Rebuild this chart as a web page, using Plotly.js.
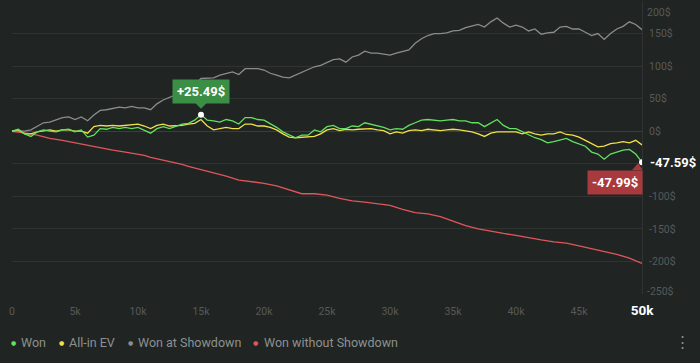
<!DOCTYPE html>
<html><head><meta charset="utf-8">
<script src="https://cdn.plot.ly/plotly-3.0.1.min.js"></script>
<style>html,body{margin:0;padding:0;background:#202423;overflow:hidden;}</style>
</head><body>
<div id="chart" style="width:700px;height:363px;"></div>
<script>
// hands played (x), every 500 hands
const hands = [0,500,1000,1500,2000,2500,3000,3500,4000,4500,
  5000,5500,6000,6500,7000,7500,8000,8500,9000,9500,
  10000,10500,11000,11500,12000,12500,13000,13500,14000,14500,
  15000,15500,16000,16500,17000,17500,18000,18500,19000,19500,
  20000,20500,21000,21500,22000,22500,23000,23500,24000,24500,
  25000,25500,26000,26500,27000,27500,28000,28500,29000,29500,
  30000,30500,31000,31500,32000,32500,33000,33500,34000,34500,
  35000,35500,36000,36500,37000,37500,38000,38500,39000,39500,
  40000,40500,41000,41500,42000,42500,43000,43500,44000,44500,
  45000,45500,46000,46500,47000,47500,48000,48500,49000,49500,
  50000];
const won = [0,3,-4,-8,-1,2,0,-1,2,3,
  -1,2,-9,-6,4,3,6,4,6,4,
  6,2,-3,4,7,4,8,11,12,17,
  25.49,17,16,14,18,16,11,21,21,18,
  17,12,6,-1,-6,-10,-6,-6,2,-1,
  7,9,4,4,8,7,13,11,8,6,
  2,4,3,9,13,17,18,17,16,17,
  18,16,16,13,13,7,13,18,9,4,
  4,-1,-6,-10,-13,-18,-16,-14,-11,-16,
  -19,-23,-32,-35,-43,-35,-32,-29,-28,-35,
  -47.59];
const allinEV = [0,2,-4,-4,-1,0,2,0,2,2,
  0,0,-3,7,9,8,9,8,9,9,
  11,8,4,9,11,8,8,9,11,12,
  18,8,2,4,6,4,4,11,11,8,
  8,6,2,-4,-9,-10,-9,-9,-8,-4,
  2,4,1,3,2,3,4,4,2,1,
  -4,-1,-3,1,2,1,3,2,1,2,
  3,2,1,-1,-4,-8,-3,-1,-1,-1,
  -1,-4,-1,-4,-6,-4,-4,-1,-5,-6,
  -9,-14,-19,-24,-23,-19,-18,-16,-18,-14,
  -21];
const wonShowdown = [0,0,0,2,7,13,14,18,21,22,
  18,22,16,25,32,33,35,37,36,38,
  36,36,33,42,48,52,55,60,65,71,
  81,81,82,86,88,91,87,96,96,96,
  94,89,86,83,82,86,91,95,99,101,
  106,110,111,106,114,117,123,120,120,119,
  117,120,122,125,135,142,147,150,150,151,
  154,155,159,161,164,160,168,174,166,160,
  163,160,154,157,149,151,152,160,161,157,
  157,152,147,150,141,150,157,161,168,164,
  156];
const noShowdownHands = [0,1000,1500,2000,3000,4000,4500,5000,6000,7000,7500,8000,9000,10000,10500,11000,12000,13000,13500,14000,15000,16000,17000,18000,19000,20000,21000,22000,23000,24000,25000,26000,27000,28000,29000,30000,31000,32000,33000,34000,35000,36000,37000,38000,39000,40000,41000,42000,43000,44000,45000,46000,47000,48000,49000,50000];
const wonNoShowdown = [0,-2,-4,-6,-11,-14,-16,-18,-21,-25,-27,-29,-32,-35,-37,-40,-44,-49,-51,-54,-59,-63,-69,-75,-77,-80,-84,-90,-96,-96,-98,-103,-107,-109,-111,-114,-120,-125,-127,-131,-138,-145,-150,-154,-157,-160,-164,-167,-170,-172,-176,-180,-185,-189,-195,-203];
const seriesNames = ['Won','All-in EV','Won at Showdown','Won without Showdown'];
const seriesColors = ['#63e05f','#f0e04a','#8c8c8c','#e0565a'];
const xTickVals = [0,5000,10000,15000,20000,25000,30000,35000,40000,45000,50000];
const xTickText = ['0','5k','10k','15k','20k','25k','30k','35k','40k','45k','50k'];
const yTickVals = [-200,-150,-100,-50,0,50,100,150];
const yTickText = ['-200$','-150$','-100$','','0$','50$','100$','150$'];
const yTopTick = [200], yTopText = ['200$'];
const yBottomTick = [-250], yBottomText = ['-250$'];
const peakIndex = 30;
const evLabel = '-47.99$';

const FONT = 'Roboto, "Liberation Sans", Arial, sans-serif';
const last = hands.length - 1;
const LW = 1.3;

const traces = [
  {x: noShowdownHands, y: wonNoShowdown, name: seriesNames[3], yaxis: 'y', line: {color: seriesColors[3], width: LW}},
  {x: hands, y: wonShowdown, name: seriesNames[2], yaxis: 'y2', line: {color: seriesColors[2], width: LW}},
  {x: hands, y: allinEV, name: seriesNames[1], yaxis: 'y3', line: {color: seriesColors[1], width: LW}},
  {x: hands, y: won, name: seriesNames[0], yaxis: 'y3', line: {color: seriesColors[0], width: LW}},
].map(t => Object.assign({type: 'scatter', mode: 'lines', showlegend: false, hoverinfo: 'skip'}, t));

traces.push({
  type: 'scatter', mode: 'markers', showlegend: false, hoverinfo: 'skip', yaxis: 'y3',
  x: [hands[peakIndex], hands[last]], y: [won[peakIndex], won[last]],
  marker: {color: '#ffffff', size: 6}
});

const xpx = px => (px - 12) / 630;
const ypx = py => (294 - py) / 293;

const annotations = [
  {x: hands[peakIndex], y: won[peakIndex], xref: 'x', yref: 'y', xanchor: 'center', yanchor: 'bottom', yshift: 11,
   text: '<b>+' + won[peakIndex].toFixed(2) + '$</b>', showarrow: false,
   bgcolor: '#3a8e45', borderpad: 4, font: {family: FONT, size: 13, color: '#ffffff'}},
  {x: hands[last], y: won[last], xref: 'x', yref: 'y', xanchor: 'left', yanchor: 'middle', xshift: 6,
   text: '<b>' + won[last].toFixed(2) + '$</b>', showarrow: false,
   font: {family: FONT, size: 13, color: '#ffffff'}},
  {x: hands[last], y: won[last], xref: 'x', yref: 'y', xanchor: 'right', yanchor: 'top', yshift: -8, xshift: 1,
   text: '<b>' + evLabel + '</b>', showarrow: false,
   bgcolor: '#a83a3e', borderpad: 4, font: {family: FONT, size: 13, color: '#ffffff'}},
  {x: xpx(682), y: ypx(342), xref: 'paper', yref: 'paper', xanchor: 'center', yanchor: 'middle',
   text: '⋮', showarrow: false, font: {family: FONT, size: 15, color: '#8d918f'}}
];
const legendDotPx = [13.3, 61.3, 130, 255.7];
const legendTextPx = [19, 67, 136, 262];
for (let i = 0; i < 4; i++) {
  annotations.push({x: xpx(legendDotPx[i]), y: ypx(342), xref: 'paper', yref: 'paper', xanchor: 'center', yanchor: 'middle',
    text: '●', showarrow: false, font: {family: 'DejaVu Sans', size: 6, color: seriesColors[i]}});
  annotations.push({x: xpx(legendTextPx[i]), y: ypx(342), xref: 'paper', yref: 'paper', xanchor: 'left', yanchor: 'middle',
    text: seriesNames[i], showarrow: false, font: {family: FONT, size: 12.5, color: '#8d918f'}});
}

const tickFont = {family: FONT, size: 10.5, color: '#565b59'};
const xText = xTickText.map((t, i) => i === xTickText.length - 1
  ? '<span style="color:#ffffff;font-size:13.5px;font-weight:bold"><b>' + t + '</b></span>' : t);

const overlayAxis = (vals, text, shift) => ({
  range: [-250, 200], overlaying: 'y', side: 'right', tickmode: 'array', tickvals: vals, ticktext: text,
  showgrid: false, zeroline: false, showline: false, ticks: '', tickfont: tickFont,
  ticklabelstandoff: 4, ticklabelshift: shift, fixedrange: true
});

const layout = {
  width: 700, height: 363,
  margin: {l: 12, r: 58, t: 1, b: 69},
  paper_bgcolor: '#202423', plot_bgcolor: '#202423',
  showlegend: false,
  xaxis: {range: [0, 50000], tickmode: 'array', tickvals: xTickVals, ticktext: xText,
    showgrid: false, zeroline: false, showline: false, ticks: '', tickfont: tickFont, ticklabelstandoff: 9, fixedrange: true},
  yaxis: {range: [-250, 200], side: 'right', tickmode: 'array',
    tickvals: [yBottomTick[0]].concat(yTickVals, yTopTick),
    ticktext: [''].concat(yTickText, ['']),
    gridcolor: '#2f3432', gridwidth: 1, zeroline: true, zerolinecolor: '#3a3f3d', zerolinewidth: 1,
    showline: true, linecolor: '#2f3432', linewidth: 1, ticks: '', tickfont: tickFont, ticklabelstandoff: 4, fixedrange: true},
  yaxis2: overlayAxis(yTopTick, yTopText, 11),
  yaxis3: overlayAxis(yBottomTick, yBottomText, -3),
  annotations: annotations,
  shapes: [
    {type: 'path', xref: 'x', yref: 'y', xsizemode: 'pixel', ysizemode: 'pixel',
     xanchor: hands[peakIndex], yanchor: won[peakIndex], path: 'M-6,12 L6,12 L0,6 Z',
     fillcolor: '#3a8e45', line: {width: 0}},
    {type: 'path', xref: 'x', yref: 'y', xsizemode: 'pixel', ysizemode: 'pixel',
     xanchor: hands[last], yanchor: won[last], path: 'M-10,-8 L1,-8 L-4,-1 Z',
     fillcolor: '#a83a3e', line: {width: 0}}
  ]
};
Plotly.newPlot('chart', traces, layout, {displayModeBar: false, staticPlot: true});
</script>
</body></html>
